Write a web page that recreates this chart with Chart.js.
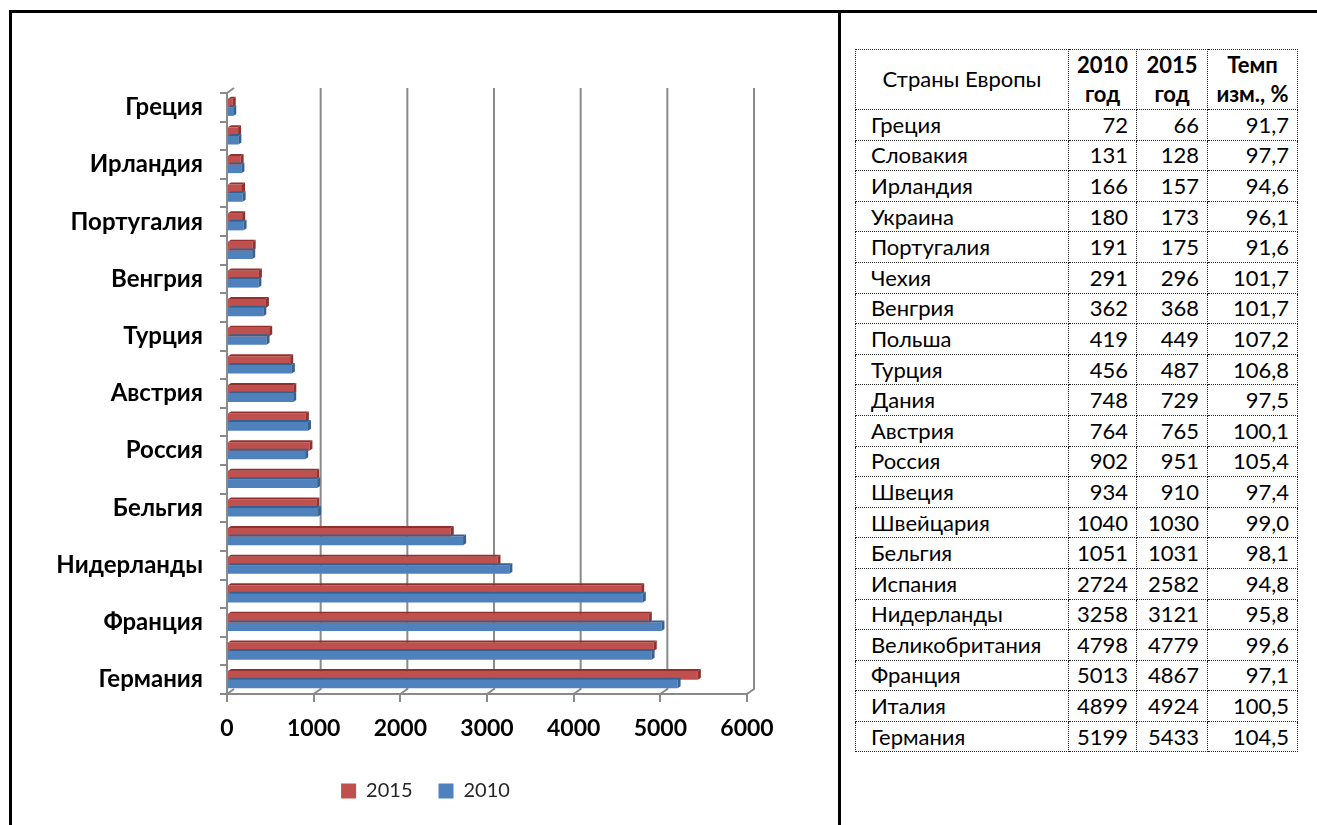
<!DOCTYPE html>
<html lang="ru">
<head>
<meta charset="utf-8">
<title>Страны Европы, 2010 и 2015 гг.</title>
<script src="https://cdn.jsdelivr.net/npm/chart.js@4.4.1/dist/chart.umd.min.js"></script>
<style>
  html, body { margin: 0; padding: 0; background: #fff; }
  body { width: 1317px; height: 825px; position: relative; overflow: hidden; font-family: Lato, "Open Sans", sans-serif; }
  .rule { position: absolute; background: #000; }
  #chartBox { position: absolute; left: 11px; top: 12px; width: 829px; height: 813px; }
  #tbl { position: absolute; left: 855px; top: 49px; border-collapse: collapse; font-size: 22px; color: #000; }
  #tbl td, #tbl th { border: 1px dotted #222; padding: 0; box-sizing: border-box; height: 30.6px; line-height: 1; }
  #tbl th { font-weight: bold; height: 60px; line-height: 1.3; }
  #tbl th.name { font-weight: normal; }
  #tbl td.name { text-align: left; padding-left: 15px; }
  #tbl td.num { text-align: right; padding-right: 8px; }
</style>
</head>
<body>
<div class="rule" style="left:9px; top:10px; width:1308px; height:3px;"></div>
<div class="rule" style="left:9px; top:10px; width:3px; height:815px;"></div>
<div class="rule" style="left:838px; top:10px; width:3px; height:815px;"></div>

<div id="chartBox"><canvas id="c"></canvas></div>

<table id="tbl">
  <colgroup>
    <col style="width:213px"><col style="width:68px"><col style="width:71px"><col style="width:90px">
  </colgroup>
  <thead>
    <tr><th class="name">Страны Европы</th><th>2010<br>год</th><th>2015<br>год</th><th>Темп<br>изм., %</th></tr>
  </thead>
  <tbody id="rows"></tbody>
</table>

<script>
// Countries and values (table order)
const countries = ['Греция', 'Словакия', 'Ирландия', 'Украина', 'Португалия', 'Чехия', 'Венгрия',
  'Польша', 'Турция', 'Дания', 'Австрия', 'Россия', 'Швеция', 'Швейцария', 'Бельгия', 'Испания',
  'Нидерланды', 'Великобритания', 'Франция', 'Италия', 'Германия'];
const values2010 = [72, 131, 166, 180, 191, 291, 362, 419, 456, 748, 764, 902, 934, 1040, 1051, 2724,
  3258, 4798, 5013, 4899, 5199];
const values2015 = [66, 128, 157, 173, 175, 296, 368, 449, 487, 729, 765, 951, 910, 1030, 1031, 2582,
  3121, 4779, 4867, 4924, 5433];
const changeRate = ['91,7', '97,7', '94,6', '96,1', '91,6', '101,7', '101,7', '107,2', '106,8', '97,5',
  '100,1', '105,4', '97,4', '99,0', '98,1', '94,8', '95,8', '99,6', '97,1', '100,5', '104,5'];

// Category order on the chart (Швеция and Россия follow the 2015 ranking)
const chartCountries = ['Греция', 'Словакия', 'Ирландия', 'Украина', 'Португалия', 'Чехия', 'Венгрия',
  'Польша', 'Турция', 'Дания', 'Австрия', 'Швеция', 'Россия', 'Швейцария', 'Бельгия', 'Испания',
  'Нидерланды', 'Великобритания', 'Франция', 'Италия', 'Германия'];
const xTicks = [0, 1000, 2000, 3000, 4000, 5000, 6000];

// Table body
const tbody = document.getElementById('rows');
countries.forEach((name, i) => {
  const tr = document.createElement('tr');
  [[name, 'name'], [values2010[i], 'num'], [values2015[i], 'num'], [changeRate[i], 'num']].forEach(([txt, cls]) => {
    const td = document.createElement('td');
    td.className = cls;
    td.textContent = txt;
    tr.appendChild(td);
  });
  tbody.appendChild(tr);
});

const lookup = (arr) => chartCountries.map(n => arr[countries.indexOf(n)]);

const RED = '#C0504D', BLUE = '#4F81BD';
const RED_DARK = '#93302D', BLUE_DARK = '#35608F';
const AXIS = '#8A8A8A';
const WALL = { dx: 7, dy: -5 };   // depth of the back wall
const BAR = { dx: 3, dy: -2 };    // depth of each bar
const RIGHT_GAP = 93;             // free space right of the plot

const shade = (hex) => hex === RED ? RED_DARK : BLUE_DARK;

const depthPlugin = {
  id: 'depth3d',
  afterLayout(chart) {
    // centre the legend on the whole canvas, not only on the padded area
    if (chart.legend) chart.legend.right += RIGHT_GAP;
  },
  beforeDatasetsDraw(chart) {
    const { ctx, chartArea: a, scales: { x } } = chart;
    ctx.save();
    ctx.strokeStyle = AXIS;
    ctx.lineWidth = 2;
    xTicks.forEach(v => {
      const px = x.getPixelForValue(v);
      ctx.beginPath();
      ctx.moveTo(px, a.bottom);
      ctx.lineTo(px + WALL.dx, a.bottom + WALL.dy);
      if (v !== 0) ctx.lineTo(px + WALL.dx, a.top + WALL.dy);
      ctx.stroke();
    });
    ctx.beginPath();
    ctx.moveTo(a.left, a.top);
    ctx.lineTo(a.left + WALL.dx, a.top + WALL.dy);
    ctx.stroke();
    ctx.restore();
  },
  afterDatasetsDraw(chart) {
    const { ctx } = chart;
    ctx.save();
    chart.data.datasets.forEach((ds, i) => {
      const meta = chart.getDatasetMeta(i);
      const dark = shade(ds.backgroundColor);
      meta.data.forEach(bar => {
        const p = bar.getProps(['x', 'y', 'base', 'height'], true);
        const top = p.y - p.height / 2, bot = p.y + p.height / 2;
        ctx.fillStyle = dark;
        // top face
        ctx.beginPath();
        ctx.moveTo(p.base, top);
        ctx.lineTo(p.base + BAR.dx, top + BAR.dy);
        ctx.lineTo(p.x + BAR.dx, top + BAR.dy);
        ctx.lineTo(p.x, top);
        ctx.closePath();
        ctx.fill();
        // end cap
        ctx.beginPath();
        ctx.moveTo(p.x, top);
        ctx.lineTo(p.x + BAR.dx, top + BAR.dy);
        ctx.lineTo(p.x + BAR.dx, bot + BAR.dy);
        ctx.lineTo(p.x, bot);
        ctx.closePath();
        ctx.fill();
      });
    });
    ctx.restore();
  }
};

new Chart(document.getElementById('c'), {
  type: 'bar',
  data: {
    labels: chartCountries,
    datasets: [
      { label: '2015', data: lookup(values2015), backgroundColor: RED },
      { label: '2010', data: lookup(values2010), backgroundColor: BLUE }
    ]
  },
  options: {
    indexAxis: 'y',
    responsive: true,
    maintainAspectRatio: false,
    animation: false,
    layout: { padding: { top: 81, bottom: 14, left: 0, right: RIGHT_GAP } },
    datasets: { bar: { categoryPercentage: 0.6, barPercentage: 1.0 } },
    plugins: {
      tooltip: { enabled: false },
      legend: {
        position: 'bottom',
        labels: {
          boxWidth: 15, boxHeight: 15, padding: 26,
          color: '#262626',
          font: { family: 'Lato', size: 20 }
        }
      }
    },
    scales: {
      x: {
        min: 0, max: 6000,
        afterBuildTicks: (s) => { s.ticks = xTicks.map(v => ({ value: v })); },
        afterFit: (s) => { s.height = 61; },
        border: { color: AXIS, width: 2 },
        grid: { drawOnChartArea: false, color: AXIS, lineWidth: 2, tickLength: 8 },
        ticks: {
          color: '#000', padding: 13,
          font: { family: 'Lato', size: 23, weight: 'bold' },
          callback: (v) => String(v)
        }
      },
      y: {
        afterFit: (s) => { s.width = 216; },
        border: { color: AXIS, width: 2 },
        grid: { drawOnChartArea: false, color: AXIS, lineWidth: 2, tickLength: 7, offset: true },
        ticks: {
          autoSkip: false,
          padding: 17,
          color: '#000',
          font: { family: 'Lato', size: 24, weight: 'bold' },
          callback: function (v, i) { return i % 2 === 0 ? this.getLabelForValue(v) : ''; }
        }
      }
    }
  },
  plugins: [depthPlugin]
});
</script>
</body>
</html>
